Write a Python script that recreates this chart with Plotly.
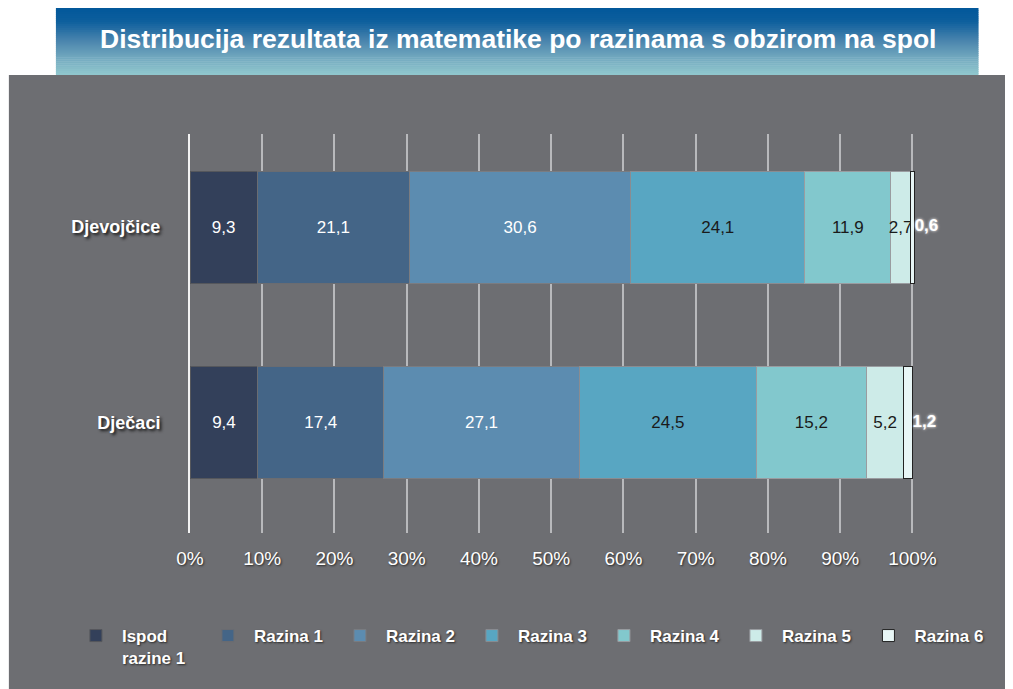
import plotly.graph_objects as go

categories = ["Djevojčice", "Dječaci"]
levels = ["Ispod<br>razine 1", "Razina 1", "Razina 2", "Razina 3", "Razina 4", "Razina 5", "Razina 6"]
girls = [9.3, 21.1, 30.6, 24.1, 11.9, 2.7, 0.6]
boys = [9.4, 17.4, 27.1, 24.5, 15.2, 5.2, 1.2]
x_ticks = [0, 10, 20, 30, 40, 50, 60, 70, 80, 90, 100]
x_tick_labels = ["0%", "10%", "20%", "30%", "40%", "50%", "60%", "70%", "80%", "90%", "100%"]

fill_colors = ["#33405a", "#446587", "#5c8cb0", "#58a6c2", "#82c8cd", "#cdebe8", "#e8f6f6"]
line_colors = ["#55575c", "#6a6c71", "#7a7c81", "#8a8c91", "#9a9ca0", "#9a9ca0", "#222222"]
text_colors = ["white", "white", "white", "#1a1a1a", "#1a1a1a", "#1a1a1a", "white"]

FONT = "Liberation Sans, Arial, Helvetica, sans-serif"
GRAY = "#6d6e72"

# The page body adds an 8px margin; figure coordinates below are page coords minus 8.
OFF = 8
XMAX = 100.35
FW, FH = 1013 - OFF, 689 - OFF
L, T, B = 190 - OFF, 134 - OFF, 533 - OFF
R = L + 722 * XMAX / 100
W, H = R - L, B - T

def px(x):
    return (x - OFF - L) / W

def py(y):
    return (B - (y - OFF)) / H

fig = go.Figure()
for i, lvl in enumerate(levels):
    last = i == len(levels) - 1
    fig.add_trace(go.Bar(
        y=categories,
        x=[girls[i], boys[i]],
        name=lvl,
        legend="legend2" if last else "legend",
        orientation="h",
        width=0.573,
        marker=dict(color=fill_colors[i], line=dict(color=line_colors[i], width=1)),
        texttemplate="" if last else "%{x:.1f}",
        textposition="none" if last else "inside",
        insidetextanchor="middle",
        constraintext="none",
        textangle=0,
        cliponaxis=False,
        textfont=dict(family=FONT, size=17, color=text_colors[i]),
        hoverinfo="x+name",
    ))

# Labels for the last level, placed just after the end of each stack
totals = [sum(girls), sum(boys)]
fig.add_trace(go.Scatter(
    x=totals, y=categories, mode="text",
    text=[girls[-1], boys[-1]],
    texttemplate="%{text:.1f}",
    textposition="middle right",
    textfont=dict(family=FONT, size=17, color="white", weight="bold",
                  shadow="0px 0px 3px #ffffff"),
    showlegend=False, cliponaxis=False, hoverinfo="skip",
))

shapes = [dict(type="rect", xref="paper", yref="paper", layer="below",
               x0=px(9), x1=px(1013), y0=py(75), y1=py(689),
               fillcolor=GRAY, line=dict(width=0))]

# Title band gradient
stops = [(0.0, (2, 87, 154)), (0.2, (13, 95, 157)), (0.5, (76, 134, 174)),
         (0.8, (123, 177, 195)), (1.0, (145, 200, 206))]

def interp(t):
    for (t0, c0), (t1, c1) in zip(stops[:-1], stops[1:]):
        if t0 <= t <= t1:
            f = (t - t0) / (t1 - t0)
            return tuple(round(a + (b - a) * f) for a, b in zip(c0, c1))
    return stops[-1][1]

top, bot = 8, 75
n = 34
for k in range(n):
    y0 = top + (bot - top) * k / n
    y1 = top + (bot - top) * (k + 1) / n + 0.6
    c = interp((k + 0.5) / n)
    shapes.append(dict(type="rect", xref="paper", yref="paper", layer="below",
                       x0=px(56), x1=px(978), y0=py(min(y1, bot)), y1=py(y0),
                       fillcolor="rgb(%d,%d,%d)" % c, line=dict(width=0)))

legend_font = dict(family=FONT, size=17, color="white", weight="bold",
                   shadow="1px 1px 2px #2a2a2a")

fig.update_layout(
    width=FW, height=FH,
    margin=dict(l=L, r=FW - R, t=T, b=FH - B, autoexpand=False),
    paper_bgcolor="white",
    plot_bgcolor=GRAY,
    barmode="stack",
    separators=", ",
    shapes=shapes,
    font=dict(family=FONT, color="white"),
    annotations=[dict(
        text="<b>Distribucija rezultata iz matematike po razinama s obzirom na spol</b>",
        xref="paper", yref="paper", x=px(518), y=py(39),
        xanchor="center", yanchor="middle", showarrow=False,
        font=dict(family=FONT, size=26.5, color="white"),
    )],
    xaxis=dict(
        range=[0, XMAX], tickmode="array", tickvals=x_ticks, ticktext=x_tick_labels,
        showgrid=True, gridcolor="#b8b9bc", gridwidth=1.5,
        zeroline=False, showline=False, ticks="",
        tickfont=dict(family=FONT, size=19, color="white", shadow="1px 1px 2px #2a2a2a"),
        ticklabelstandoff=12, fixedrange=True,
    ),
    yaxis=dict(
        type="category", categoryorder="array", categoryarray=categories[::-1],
        range=[-0.565, 1.476], showgrid=False, zeroline=False,
        showline=True, linecolor="#f2f2f2", linewidth=2, ticks="",
        tickfont=dict(family=FONT, size=18, color="white", weight="bold",
                      shadow="2px 2px 3px #1a1a1a"),
        ticklabelstandoff=24, fixedrange=True,
    ),
    legend=dict(
        orientation="h", x=px(70), xanchor="left", y=py(618), yanchor="top",
        entrywidth=75, entrywidthmode="pixels", valign="top",
        itemwidth=42, traceorder="normal",
        font=legend_font, bgcolor="rgba(0,0,0,0)",
    ),
    legend2=dict(
        orientation="h", x=px(70 + 6 * 132), xanchor="left", y=py(618), yanchor="top",
        valign="top", itemwidth=42,
        font=legend_font, bgcolor="rgba(0,0,0,0)",
    ),
    showlegend=True,
)

fig.write_html("out.html")
